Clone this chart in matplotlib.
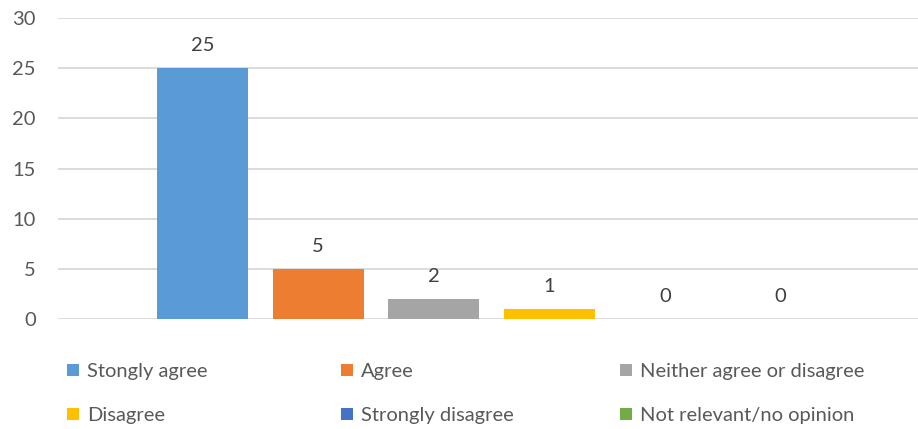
import matplotlib.pyplot as plt
import numpy as np

categories = ['Stongly agree', 'Agree', 'Neither agree or disagree',
              'Disagree', 'Strongly disagree', 'Not relevant/no opinion']
values = [25, 5, 2, 1, 0, 0]
colors = ['#5B9BD5', '#ED7D31', '#A5A5A5', '#FFC000', '#4472C4', '#70AD47']
yticks = [0, 5, 10, 15, 20, 25, 30]

plt.rcParams['font.family'] = ['Lato', 'DejaVu Sans']

fig = plt.figure(figsize=(9.18, 4.29), dpi=100)
ax = fig.add_axes([58 / 918, 1 - 319 / 429, 1 - 58 / 918, 301 / 429])

step = 0.1344
width = 0.1058
offsets = (np.arange(len(values)) - (len(values) - 1) / 2) * step + 0.004
handles = []
for off, val, col, lab in zip(offsets, values, colors, categories):
    b = ax.bar(off, val, width=width, color=col, label=lab, zorder=3)
    ax.bar_label(b, padding=10, fontsize=14.5, color='#404040')
    handles.append(b)

ax.set_xlim(-0.5, 0.5)
ax.set_ylim(0, 30)
ax.set_yticks(yticks)
ax.set_xticks([])
ax.grid(axis='y', color='#D9D9D9', linewidth=1.3, zorder=0)
ax.tick_params(axis='y', length=0, pad=16, labelsize=14.5, labelcolor='#595959')
for s in ax.spines.values():
    s.set_visible(False)

# legend in three evenly spaced columns, like Excel
col_x = [67, 341, 620]
for i, x in enumerate(col_x):
    leg = fig.legend([handles[i], handles[i + 3]], [categories[i], categories[i + 3]],
                     loc='upper left', bbox_to_anchor=(x / 918, 1 - 363 / 429),
                     frameon=False, fontsize=14.5, handlelength=0.6, handleheight=0.6,
                     handletextpad=0.4, labelspacing=1.35, borderpad=0, borderaxespad=0)
    for t in leg.get_texts():
        t.set_color('#595959')

fig.savefig('out.png', dpi=100)
